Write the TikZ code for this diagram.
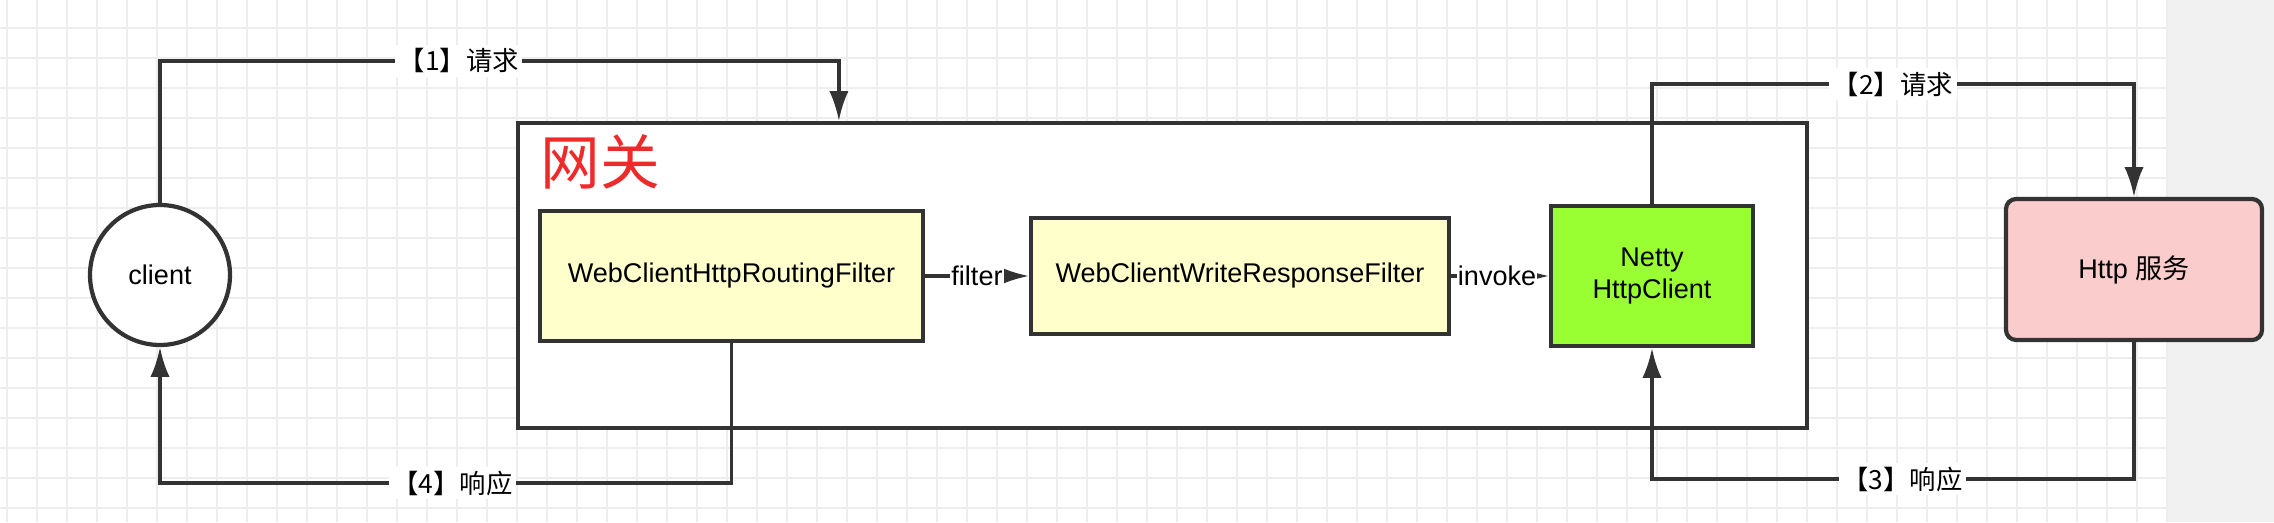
\documentclass[tikz,border=0pt]{standalone}
\usepackage{fontspec}
\setmainfont{Liberation Sans}
\newfontfamily\cjk{Noto Sans CJK SC}
\usetikzlibrary{arrows.meta}

\definecolor{linegray}{HTML}{333333}
\definecolor{gridgray}{HTML}{EEEEEE}
\definecolor{sidegray}{HTML}{F1F1F1}
\definecolor{filteryellow}{HTML}{FFFFCC}
\definecolor{nettygreen}{HTML}{99FF33}
\definecolor{httppink}{HTML}{FACCCC}
\definecolor{titlered}{HTML}{EE2A2A}

\newcommand{\boxfont}{\fontsize{7.7pt}{9.2pt}\selectfont}

\tikzset{
	filterbox/.style = {draw = linegray, line width = 1.2pt, fill = filteryellow, font = \boxfont},
	flow/.style = {draw = linegray, line width = 1pt, ->},
	lbl/.style = {fill = white, inner sep = 1pt, font = \cjk\fontsize{7.5pt}{9pt}\selectfont},
	elbl/.style = {fill = white, inner sep = 0.3pt, font = \boxfont}
}

\begin{document}
\begin{tikzpicture}[>={Latex[length=8.5pt,width=5.5pt]}]

	\useasboundingbox (0,0) rectangle (22.74,5.22);
	% grid background
	\fill [sidegray] (21.67,0) rectangle (22.74,5.22);
	\foreach \gx in {0,...,72}
	\draw [gridgray, line width = 0.5pt] ({0.067+0.3*\gx},0) -- ++(0,5.22);
	\foreach \gy in {0,...,16}
	\draw [gridgray, line width = 0.5pt] (0,{4.94-0.3*\gy}) -- ++(21.67,0);

	% gateway
	\node [draw = linegray, line width = 1.2pt, fill = white, minimum width = 12.89cm, minimum height = 3.05cm] (gw) at (11.625,2.465) {};
	\node [anchor = west, text = titlered, inner sep = 0pt, font = \cjk\fontsize{17pt}{17pt}\selectfont] (title) at (5.40,3.60) {网关};

	\node [filterbox, minimum width = 3.83cm, minimum height = 1.30cm] (routing) at (7.315,2.46) {WebClientHttpRoutingFilter};
	\node [filterbox, minimum width = 4.18cm, minimum height = 1.16cm] (writer) at (12.40,2.46) {WebClientWriteResponseFilter};
	\node [draw = linegray, line width = 1.2pt, fill = nettygreen, font = \boxfont, align = center, minimum width = 2.02cm, minimum height = 1.40cm] (netty) at (16.52,2.46) {Netty\\HttpClient};

	\node [circle, draw = linegray, line width = 1.2pt, fill = white, minimum size = 1.40cm, font = \boxfont] (client) at (1.60,2.47) {client};
	\node [draw = linegray, line width = 1.2pt, fill = httppink, rounded corners = 1mm, minimum width = 2.56cm, minimum height = 1.41cm] (http) at (21.34,2.525) {\boxfont Http {\cjk 服务}};

	% request / response
	\coordinate (in1) at ([xshift=3.23cm]gw.north west);
	\draw [flow] (client.north) |- node [lbl, pos = 0.72] {【1】请求} ([yshift=0.6cm]in1) -- (in1);
	\draw [flow] (routing) -- node [elbl] {filter} (writer);
	\draw [flow] (writer) -- node [elbl, pos = 0.47] {invoke} (netty);
	\draw [flow] (netty.north) |- node [lbl, pos = 0.75] {【2】请求} (http.north |- 0,4.38) -- (http.north);
	\draw [flow] (http.south) |- node [lbl, pos = 0.74] {【3】响应} (netty.south |- 0,0.43) -- (netty.south);
	\draw [flow] (routing.south) |- node [lbl, pos = 0.744] {【4】响应} (client.south |- 0,0.39) -- (client.south);

\end{tikzpicture}
\end{document}
